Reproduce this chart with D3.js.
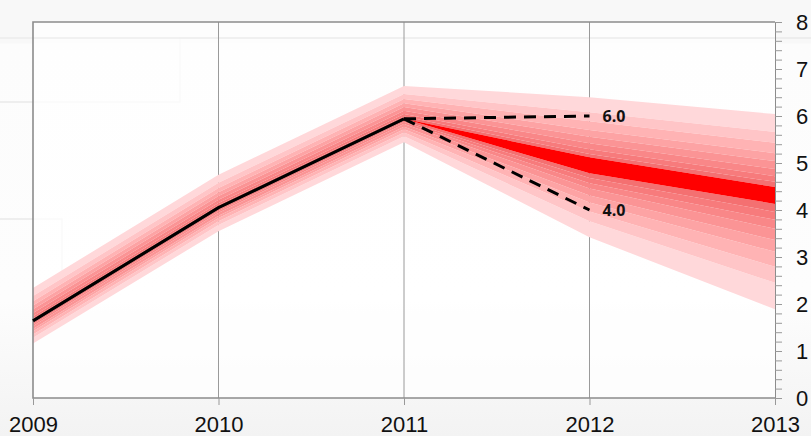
<!DOCTYPE html>
<html>
<head>
<meta charset="utf-8">
<script src="https://cdn.jsdelivr.net/npm/d3@7"></script>
<style>
  html, body { margin: 0; padding: 0; }
  body { width: 811px; height: 436px; overflow: hidden;
         background: linear-gradient(#f8f8f8 0px, #f8f8f8 43px, #fcfcfc 44px, #fdfdfd 300px, #f3f3f3 436px); }
  svg { display: block; }
</style>
</head>
<body>
<svg id="chart" width="811" height="436"></svg>
<script>
// ---- data ----
const years = [2009, 2010, 2011, 2012, 2013];
const yTicks = [0, 1, 2, 3, 4, 5, 6, 7, 8];
const historyYears = [2009, 2010, 2011];
const historyValues = [1.64, 4.05, 5.94];
// band edges above the centre, outermost -> innermost, one row per year
const upperEdges = [
  [2.34, 2.17, 2.06, 1.97, 1.89, 1.81, 1.74, 1.69, 1.64],
  [4.75, 4.58, 4.47, 4.38, 4.30, 4.22, 4.15, 4.10, 4.05],
  [6.64, 6.47, 6.36, 6.27, 6.19, 6.11, 6.04, 5.99, 5.94],
  [6.40, 6.08, 5.89, 5.70, 5.56, 5.42, 5.29, 5.19, 5.12],
  [6.04, 5.66, 5.43, 5.21, 5.04, 4.87, 4.72, 4.60, 4.49]
];
// band edges below the centre, innermost -> outermost
const lowerEdges = [
  [1.64, 1.60, 1.57, 1.53, 1.47, 1.42, 1.35, 1.28, 1.16],
  [4.05, 4.01, 3.98, 3.94, 3.88, 3.83, 3.76, 3.68, 3.55],
  [5.94, 5.90, 5.87, 5.83, 5.77, 5.72, 5.65, 5.57, 5.44],
  [4.78, 4.68, 4.57, 4.46, 4.31, 4.16, 3.97, 3.76, 3.42],
  [4.13, 3.96, 3.79, 3.60, 3.36, 3.11, 2.79, 2.45, 1.89]
];
const scenarioStart = [2011, 5.94];
const scenarioHigh = [2012, 6.0];
const scenarioLow = [2012, 4.0];
const scenarioLabels = ["6.0", "4.0"];

// ---- styles ----
const bandColors = ["#ffd8da", "#ffc5c7", "#ffb3b4", "#fda3a4", "#fb9495", "#f98788", "#f77b7c", "#f47071"];
const centreColor = "#ff0000";

const svg = d3.select("#chart");
const pL = 33, pR = 775, pT = 22, pB = 398;
const x = d3.scaleLinear().domain([2009, 2013]).range([pL, pR]);
const y = d3.scaleLinear().domain([0, 8]).range([pB, pT]);

// faint background decoration lines
svg.append("path")
  .attr("d", "M0,102H180V38H811")
  .attr("fill", "none").attr("stroke", "#e9e9e9").attr("stroke-width", 1.3);
svg.append("path")
  .attr("d", "M0,219H62V272")
  .attr("fill", "none").attr("stroke", "#e9e9e9").attr("stroke-width", 1.3);

// plot area
svg.append("rect").attr("x", pL).attr("y", pT)
  .attr("width", pR - pL).attr("height", pB - pT)
  .attr("fill", "#ffffff").attr("fill-opacity", 0.75);
svg.append("path")
  .attr("d", "M0,38H811").attr("stroke", "#ededed").attr("stroke-width", 1.3);

// gridlines
svg.append("g").selectAll("line").data(years.slice(1, 4)).join("line")
  .attr("x1", d => x(d)).attr("x2", d => x(d))
  .attr("y1", pT).attr("y2", pB)
  .attr("stroke", "#9a9a9a").attr("stroke-width", 1);

// fan bands
const bandArea = d3.area().x(d => x(d.yr)).y0(d => y(d.lo)).y1(d => y(d.hi));
const bands = [];
for (let k = 0; k < 8; k++) {
  bands.push({ color: bandColors[k],
    pts: years.map((yr, i) => ({ yr, hi: upperEdges[i][k], lo: upperEdges[i][k + 1] })) });
  bands.push({ color: bandColors[k],
    pts: years.map((yr, i) => ({ yr, hi: lowerEdges[i][7 - k], lo: lowerEdges[i][8 - k] })) });
}
bands.push({ color: centreColor,
  pts: years.map((yr, i) => ({ yr, hi: upperEdges[i][8], lo: lowerEdges[i][0] })) });
svg.append("g").selectAll("path").data(bands).join("path")
  .attr("d", d => bandArea(d.pts)).attr("fill", d => d.color);

// borders
svg.append("path")
  .attr("d", `M${pR},${pT}H${pL}V${pB}H${pR}`)
  .attr("fill", "none").attr("stroke", "#8c8c8c").attr("stroke-width", 1.6);

// x axis
const xAxis = d3.axisBottom(x).tickValues(years).tickFormat(d3.format("d")).tickSize(7).tickPadding(11);
const gx = svg.append("g").attr("transform", `translate(0,${pB})`).call(xAxis);
gx.select(".domain").remove();
gx.selectAll(".tick line").attr("stroke", "#999");
gx.selectAll("text").attr("font-family", "Liberation Sans, Arial, sans-serif")
  .attr("font-size", 22).attr("fill", "#111");

// y axis (right)
const gyMinor = svg.append("g").attr("transform", `translate(${pR},0)`)
  .call(d3.axisRight(y).ticks(40).tickSize(7).tickFormat(""));
gyMinor.select(".domain").attr("stroke", "#8c8c8c");
gyMinor.selectAll(".tick line").attr("stroke", "#999");
const gy = svg.append("g").attr("transform", `translate(${pR},0)`)
  .call(d3.axisRight(y).tickValues(yTicks).tickSize(7).tickPadding(14));
gy.select(".domain").remove();
gy.selectAll(".tick line").attr("stroke", "#999");
gy.selectAll("text").attr("font-family", "Liberation Sans, Arial, sans-serif")
  .attr("font-size", 22).attr("fill", "#111");

// history line
const line = d3.line().x(d => x(d[0])).y(d => y(d[1]));
svg.append("path")
  .attr("d", line(historyYears.map((yr, i) => [yr, historyValues[i]])))
  .attr("fill", "none").attr("stroke", "#000").attr("stroke-width", 3.2)
  .attr("stroke-linejoin", "round");

// scenario dashed lines
[scenarioHigh, scenarioLow].forEach((end, i) => {
  svg.append("path").attr("d", line([scenarioStart, end]))
    .attr("fill", "none").attr("stroke", "#000").attr("stroke-width", 3)
    .attr("stroke-dasharray", "12,8");
  svg.append("text").attr("x", x(end[0]) + 13).attr("y", y(end[1]) + 6)
    .attr("font-family", "Open Sans, sans-serif").attr("font-weight", "bold")
    .attr("font-size", 16).attr("fill", "#111").text(scenarioLabels[i]);
});
</script>
</body>
</html>
